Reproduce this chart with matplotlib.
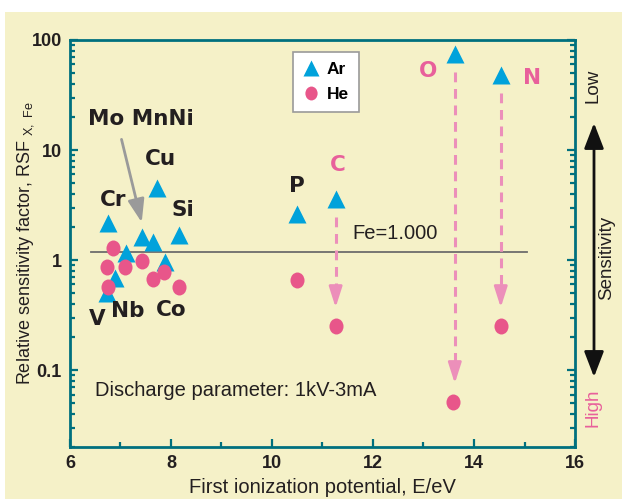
import numpy as np
import matplotlib
matplotlib.use("Agg")
import matplotlib.pyplot as plt
from matplotlib.path import Path
from matplotlib.patches import Rectangle, FancyArrowPatch
from matplotlib.lines import Line2D
from matplotlib.ticker import LogLocator, FixedLocator, NullFormatter

plt.rcParams['font.family'] = ['Liberation Sans', 'DejaVu Sans']
plt.rcParams['mathtext.fontset'] = 'custom'
plt.rcParams['mathtext.rm'] = 'Liberation Sans'

# ---- data: first ionization potential (eV) and RSF relative to Fe ----
ar_elem = ['Cr', 'V', 'Nb', 'Ti', 'Mo', 'Mn', 'Cu', 'Co', 'Si', 'P', 'C', 'O', 'N']
ar_ip = [6.75, 6.73, 6.89, 7.10, 7.42, 7.64, 7.72, 7.88, 8.15, 10.49, 11.26, 13.62, 14.53]
ar_rsf = [2.15, 0.50, 0.69, 1.16, 1.62, 1.46, 4.5, 0.97, 1.68, 2.63, 3.6, 75, 48]

he_ip = [6.86, 6.73, 7.09, 7.42, 6.76, 7.64, 7.86, 8.15, 10.49, 11.26, 14.53, 13.59]
he_rsf = [1.29, 0.87, 0.87, 0.98, 0.57, 0.67, 0.78, 0.575, 0.66, 0.25, 0.25, 0.051]

# elements whose RSF drops going from Ar to He (drawn as dashed arrows)
drop_ip = [11.26, 13.62, 14.53]
drop_ar = [3.6, 75, 48]
drop_he = [0.25, 0.051, 0.25]

fe_ref = 1.18

# element labels: text, x, y, colour
lab_text = ['Mo MnNi', 'Cu', 'Cr', 'Si', 'V', 'Nb', 'Co', 'P', 'C', 'O', 'N']
lab_x = [7.41, 7.80, 6.85, 8.24, 6.53, 7.15, 8.00, 10.50, 11.31, 13.09, 15.15]
lab_y = [19.0, 8.3, 3.54, 2.88, 0.29, 0.347, 0.354, 4.74, 7.3, 52.6, 45.5]
lab_col = ['#231f20'] * 8 + ['#e8609b'] * 3

BG = '#f5f1c8'
TEAL = '#00707e'
BLUE = '#00a2db'
PINK = '#e8568a'
LPINK = '#ec8fba'

fig = plt.figure(figsize=(6.22, 4.99), dpi=100, facecolor='white')
fig.patches.append(Rectangle((5 / 622, 0), 1, 1 - 12 / 499, transform=fig.transFigure,
                             facecolor=BG, edgecolor='none', zorder=-10))
ax = fig.add_axes([70 / 622, 1 - 447 / 499, 505 / 622, 407 / 499])
ax.set_facecolor(BG)

# slightly tall ellipse for the He markers
circ = Path.unit_circle()
ell = Path(circ.vertices * np.array([0.88, 1.0]), circ.codes)

ax.plot(ar_ip, ar_rsf, ls='none', marker='^', ms=12.5, color=BLUE, mec='none', zorder=3)
ax.plot(he_ip, he_rsf, ls='none', marker=ell, ms=11.5, color=PINK, mec='none', zorder=4)

# reference line for Fe
ax.plot([6.42, 15.05], [fe_ref, fe_ref], color='#6d6d6d', lw=1.3, zorder=2)
ax.text(11.6, 1.75, 'Fe=1.000', fontsize=14.5, color='#231f20', va='center', ha='left')

# dashed arrows from Ar value down to He value: dashed shaft + solid head
for x, a, h in zip(drop_ip, drop_ar, drop_he):
    y0 = a / 10 ** (18 / 111)
    tip = h * 10 ** (19 / 111)
    base = tip * 10 ** (14 / 111)
    ax.plot([x, x], [y0, base], color=LPINK, lw=2.2, ls=(0, (3.2, 2.2)), zorder=2)
    ax.annotate('', xy=(x, tip), xytext=(x, base),
                arrowprops=dict(arrowstyle='-|>,head_length=1.25,head_width=0.4',
                                color=LPINK, lw=2, shrinkA=0, shrinkB=0), zorder=2)

# gray pointer to the Mo / Mn / Ni group
ax.annotate('', xy=(7.42, 2.2), xytext=(7.02, 12.5),
            arrowprops=dict(arrowstyle='-|>,head_length=1.4,head_width=0.5',
                            color='#9a9a9a', lw=2, shrinkA=0, shrinkB=0), zorder=2)

for t, x, y, c in zip(lab_text, lab_x, lab_y, lab_col):
    ax.text(x, y, t, fontsize=15.5, fontweight='bold', color=c, ha='center', va='center',
            family='DejaVu Sans')

ax.text(6.5, 0.065, 'Discharge parameter: 1kV-3mA', fontsize=14.5, color='#231f20',
        va='center', ha='left')

# axes
ax.set_yscale('log')
ax.set_xlim(6, 16)
ax.set_ylim(0.02, 100)
ax.xaxis.set_major_locator(FixedLocator([6, 8, 10, 12, 14, 16]))
ax.xaxis.set_minor_locator(FixedLocator([7, 9, 11, 13, 15]))
ax.yaxis.set_major_locator(FixedLocator([0.1, 1, 10, 100]))
ax.yaxis.set_major_formatter(plt.FuncFormatter(lambda v, p: '%g' % v))
ax.yaxis.set_minor_locator(LogLocator(base=10, subs=np.arange(2, 10)))
ax.yaxis.set_minor_formatter(NullFormatter())
ax.tick_params(which='both', direction='in', color=TEAL, width=1.6,
               top=False, right=True, labelsize=13, labelcolor='#231f20', pad=6)
ax.tick_params(which='major', length=5.5)
ax.tick_params(which='minor', length=3.5)
for lbl in ax.get_xticklabels() + ax.get_yticklabels():
    lbl.set_fontweight('bold')
for s in ax.spines.values():
    s.set_color(TEAL)
    s.set_linewidth(2)

ax.set_xlabel('First ionization potential, E/eV', fontsize=14.5, color='#231f20', labelpad=4)
fig.text(26 / 622, 1 - 243 / 499,
         r'Relative sensitivity factor, RSF $_{\mathrm{X,\ Fe}}$',
         rotation=90, fontsize=13, color='#231f20', ha='center', va='center')

# legend
handles = [Line2D([], [], ls='none', marker='^', ms=11, color=BLUE, mec='none'),
           Line2D([], [], ls='none', marker=ell, ms=10, color=PINK, mec='none')]
leg = ax.legend(handles, ['Ar', 'He'], loc='upper left',
                bbox_to_anchor=((293 - 70) / 505, (447 - 52) / 407),
                borderaxespad=0, fancybox=False, framealpha=1, edgecolor='#9a9a9a',
                prop=dict(weight='bold', size=12.5), handlelength=1.0,
                handletextpad=0.4, borderpad=0.55, labelspacing=0.6)
leg.get_frame().set_linewidth(1.2)

# sensitivity scale on the right
fig.text(593 / 622, 1 - 86 / 499, 'Low', rotation=90, fontsize=13.5, color='#231f20',
         ha='center', va='center')
fig.text(593 / 622, 1 - 408 / 499, 'High', rotation=90, fontsize=13.5, color='#e8609b',
         ha='center', va='center')
fig.text(607 / 622, 1 - 258 / 499, 'Sensitivity', rotation=90, fontsize=13.5, color='#231f20',
         ha='center', va='center')
fig.patches.append(FancyArrowPatch(
    (594 / 622, 1 - 123 / 499), (594 / 622, 1 - 377 / 499), transform=fig.transFigure,
    arrowstyle='<|-|>,head_length=1.3,head_width=0.5', mutation_scale=12,
    color='#111111', lw=2, shrinkA=0, shrinkB=0))

fig.savefig('out.png', dpi=100, facecolor='white')
